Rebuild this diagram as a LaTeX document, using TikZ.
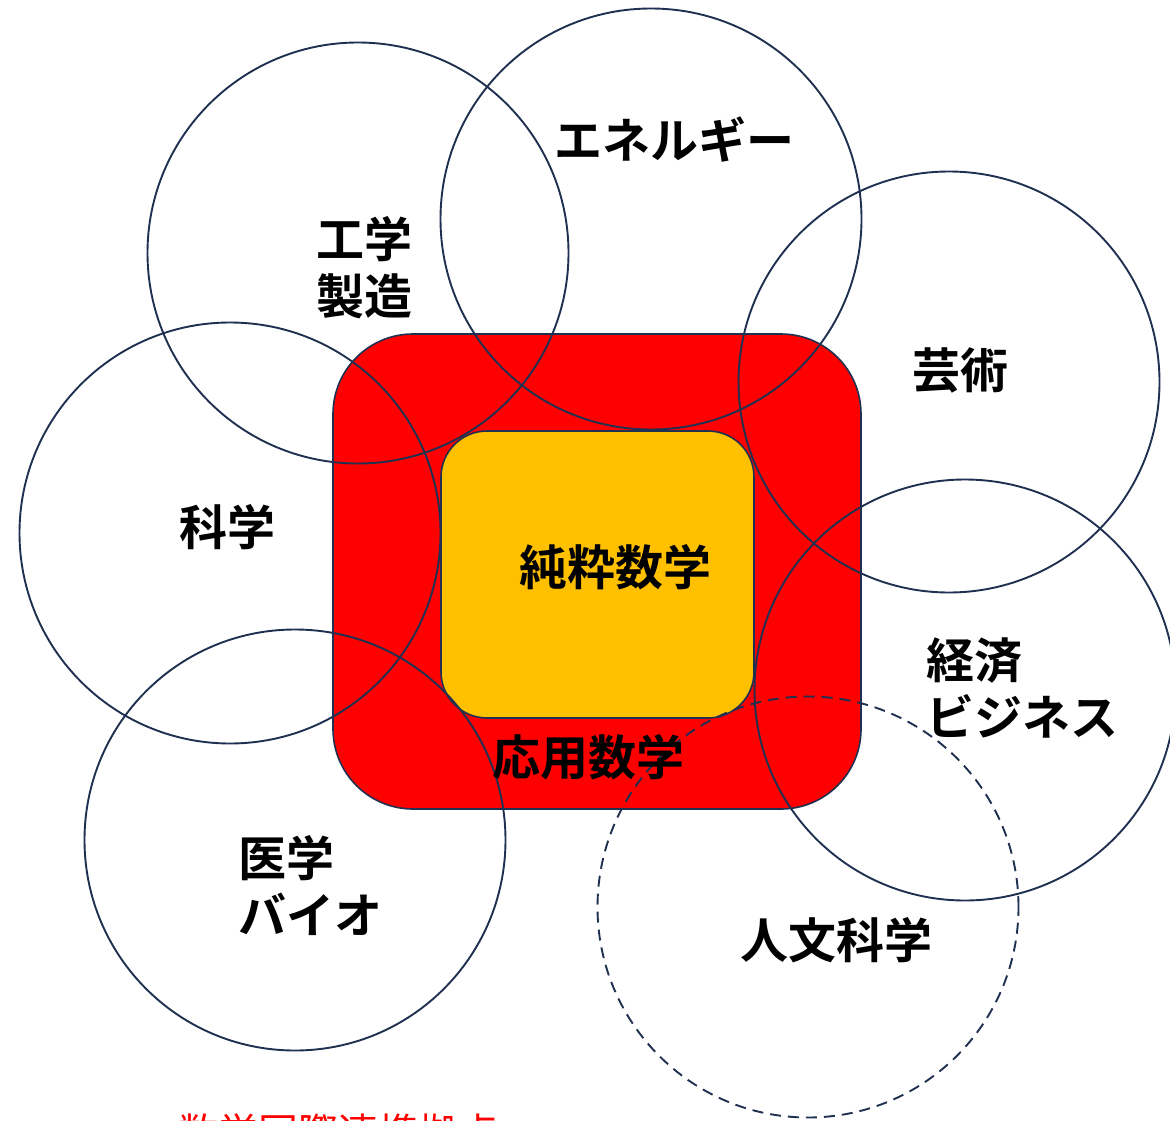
\documentclass[tikz,border=0pt]{standalone}
\usepackage{fontspec}
\newfontfamily\jp{Noto Sans CJK JP}[BoldFont={* Bold}]
\definecolor{navy}{HTML}{1F3050}
\definecolor{appred}{HTML}{FF0000}
\definecolor{pureor}{HTML}{FFC000}
\begin{document}
\begin{tikzpicture}[x=1pt,y=-1pt,
  ring/.style={circle, draw=navy, line width=1.9pt, minimum size=421pt, inner sep=0pt, outer sep=0pt},
  lbl/.style={font=\jp\bfseries\fontsize{48}{57}\selectfont, text=black, inner sep=0pt},
  lbll/.style={lbl, align=left},
  box/.style={rectangle, draw=navy, line width=1.6pt, inner sep=0pt, outer sep=0pt}]
\useasboundingbox (0,0) rectangle (1170,1121);
\clip (0,0) rectangle (1170,1121);
\fill[white] (0,0) rectangle (1170,1121);
% applied / pure maths boxes
\node[box, fill=appred, rounded corners=80pt, minimum width=528pt, minimum height=475pt] (applied) at (597,571.5) {};
\node[box, fill=pureor, rounded corners=46pt, minimum width=313pt, minimum height=287pt] (pure) at (597.5,574.5) {};
% circles
\node[ring] (eng) at (358,253) {};
\node[ring] (ene) at (651,219) {};
\node[ring] (art) at (949,382) {};
\node[ring] (sci) at (230,533) {};
\node[ring] (eco) at (965,690) {};
\node[ring] (med) at (295,840) {};
\node[ring, dashed, dash pattern=on 11pt off 7pt] (hum) at (808,907) {};
% labels
\node[lbl] (tene) at (674,140) {エネルギー};
\node[lbl, align=center] (teng) at (364,268) {工学\\製造};
\node[lbl] (tart) at (960,370) {芸術};
\node[lbl] (tsci) at (227,527) {科学};
\node[lbl] (tpure) at (615,567) {純粋数学};
\node[lbl] (tapp) at (588,757) {応用数学};
\node[lbll, anchor=west] (teco) at (926,688) {経済\\ビジネス};
\node[lbll, anchor=west] (tmed) at (238,886) {医学\\バイオ};
\node[lbl] (thum) at (836,940) {人文科学};
\node[lbl, anchor=west, text=appred, font=\jp\fontsize{40}{48}\selectfont] (tfoot) at (178,1132) {数学国際連携拠点};
\end{tikzpicture}
\end{document}
